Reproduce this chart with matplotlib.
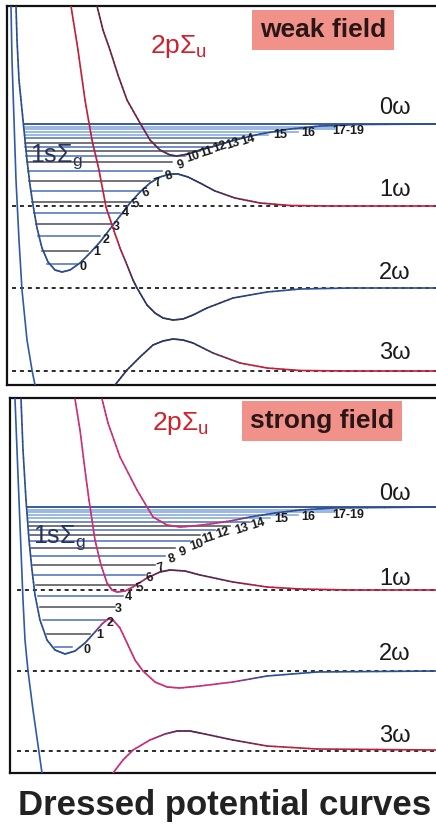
import numpy as np
import matplotlib
matplotlib.use('Agg')
import matplotlib.pyplot as plt
from matplotlib.collections import LineCollection
from matplotlib.colors import to_rgb

plt.rcParams['font.family'] = ['Liberation Sans', 'DejaVu Sans']
plt.rcParams['mathtext.fontset'] = 'custom'
plt.rcParams['mathtext.rm'] = 'Liberation Sans'
plt.rcParams['mathtext.it'] = 'Liberation Sans'

# horizontal: internuclear distance R (arb. units), vertical: energy (arb. units),
# 0 = dissociation limit of the 0-photon channel, one photon = 82 units

# ---- weak field panel ----
wk_well_x = [16, 17, 19, 21, 24, 27, 30, 33, 37, 42, 48, 55, 62, 70, 80, 90, 100, 110, 120, 130,
             140, 150, 160, 170, 178, 188, 200, 215, 235, 260, 290, 330, 436]
wk_well_e = [118, 84, 44, 24, -6, -36, -61, -81, -104, -124, -138, -146, -148, -146, -139, -129, -118, -105, -92, -79,
             -68, -59, -53, -50, -50, -53, -59, -67, -74, -79, -81.5, -82, -82]
wk_up_x = [97, 103, 110, 118, 127, 140, 150, 160, 170, 177, 188, 200, 215, 235, 260, 290, 320, 360, 436]
wk_up_e = [118, 94, 74, 49, 24, 1, -16, -26, -31, -32, -30, -26, -22, -16, -10, -5, -2, -0.5, 0]
wk_mid_x = [71, 78, 85, 92, 99, 106, 113, 120, 127, 133, 137, 147, 155, 163, 173, 183, 193, 207, 233, 267, 300, 350, 436]
wk_mid_e = [118, 74, 24, -16, -46, -83, -104, -124, -141, -156, -164, -181, -189, -194, -196, -195, -191, -184, -174, -168, -165, -164, -164]
wk_low_x = [115, 127, 140, 153, 163, 173, 183, 193, 213, 240, 267, 300, 350, 436]
wk_low_e = [-261, -246, -233, -221, -217, -215, -216, -219, -229, -239, -244, -246.5, -247, -247]
wk_wall_x = [11, 12, 14, 16, 19, 22, 27, 32, 35]
wk_wall_e = [118, 64, 4, -56, -116, -166, -216, -246, -261]
wk_dash_e = [-82, -164, -247]
wk_lv_e = [-140, -127, -112, -100, -89, -78, -67, -57, -47, -38, -32, -27, -23, -19, -14, -11, -8, -5, -3, 0]
wk_lv_x0 = [47, 42, 38, 36, 34, 32, 31, 29, 28, 27, 26, 26, 25, 25, 25, 25, 25, 25, 25, 24]
wk_lv_x1 = [77, 88, 100, 112, 120, 130, 140, 150, 162, 172, 185, 200, 212, 225, 240, 268, 298, 335, 335, 436]
wk_lab_x = [83, 97, 106, 116, 125, 136, 146, 158, 169, 181, 193, 207, 220, 233, 248, 280, 308, 348]
wk_lab_e = [-143, -128, -116, -103, -89, -80, -69, -59, -52, -41, -33, -28, -23, -20, -16, -11, -9, -7]

# ---- strong field panel ----
st_well_x = [21, 23, 26, 29, 32, 35, 40, 47, 55, 65, 75, 85, 95, 102, 108, 113, 120, 128, 135, 143,
             155, 167, 180, 200, 233, 267, 317, 436]
st_well_e = [108, 57, 7, -33, -63, -88, -113, -133, -143, -147, -144, -136, -125, -117, -112, -113, -121, -138, -153, -164,
             -175, -180, -181, -179, -175, -169, -165, -164]
st_up_x = [102, 108, 120, 137, 153, 167, 180, 193, 210, 230, 250, 275, 300, 333, 436]
st_up_e = [108, 84, 50, 17, -10, -18, -20, -19, -17, -14, -10, -6, -3, -1, 0]
st_mid_x = [75, 80, 85, 89, 95, 101, 107, 112, 117, 125, 133, 147, 160, 170, 185, 200, 233, 267, 300, 350, 436]
st_mid_e = [108, 77, 37, 7, -33, -58, -76, -83, -85, -84, -80, -71, -65, -63, -64, -68, -75, -80, -82, -83, -83]
st_low_x = [113, 123, 133, 150, 165, 177, 190, 200, 233, 267, 317, 436]
st_low_e = [-266, -253, -243, -233, -227, -224, -224, -226, -233, -239, -242, -243]
st_wall_x = [15, 17, 19, 21, 23, 25, 28, 33, 38, 42]
st_wall_e = [108, 57, 7, -43, -93, -133, -164, -203, -238, -266]
st_dash_e = [-83, -164, -244]
st_lv_e = [-140, -127, -113, -100, -89, -78, -68, -58, -49, -41, -34, -28, -23, -19, -15, -11, -8, -5, -3, 0]
st_lv_x0 = [55, 47, 43, 40, 38, 36, 34, 33, 32, 31, 30, 30, 29, 29, 29, 28, 28, 28, 28, 27]
st_lv_x1 = [72, 90, 107, 115, 123, 135, 145, 155, 165, 175, 190, 200, 215, 230, 250, 270, 298, 335, 335, 436]
st_lab_x = [87, 100, 110, 118, 128, 140, 150, 161, 172, 183, 197, 209, 223, 242, 258, 281, 308, 348]
st_lab_e = [-143, -128, -116, -102, -90, -81, -71, -61, -52, -45, -38, -31, -26, -22, -17, -12, -10, -8]

lab_txt = [str(i) for i in range(17)] + ['17-19']
photon_txt = ['0\u03c9', '1\u03c9', '2\u03c9', '3\u03c9']

BLUE = '#2c4f93'
NAVY = '#2a3560'
RED = '#c0203c'
DRED = '#6e2445'
MAG = '#c8307a'
DPUR = '#5a2550'


def grad_line(ax, x, e, stops, lw=1.2):
    """polyline whose colour is blended along x between (x, colour) stops"""
    x = np.asarray(x, float)
    e = np.asarray(e, float)
    sx = np.array([s[0] for s in stops], float)
    sc = np.array([to_rgb(s[1]) for s in stops])
    segs, cols = [], []
    t = np.linspace(0, 1, 7)
    for i in range(len(x) - 1):
        xs = x[i] + (x[i + 1] - x[i]) * t
        es = e[i] + (e[i + 1] - e[i]) * t
        for j in range(len(t) - 1):
            segs.append([(xs[j], es[j]), (xs[j + 1], es[j + 1])])
            xm = 0.5 * (xs[j] + xs[j + 1])
            cols.append([np.interp(xm, sx, sc[:, k]) for k in range(3)])
    ax.add_collection(LineCollection(segs, colors=cols, linewidths=lw, zorder=4, capstyle='round'))


def panel(ax, d, title, strong):
    ax.set_xlim(d['xlim'])
    ax.set_ylim(d['ylim'])
    ax.set_xticks([])
    ax.set_yticks([])
    for s in ['left', 'top', 'bottom']:
        ax.spines[s].set_linewidth(1.6)
        ax.spines[s].set_color('#111111')
    ax.spines['right'].set_visible(False)

    # n-photon dissociation limits
    for e in d['dash']:
        ax.plot([d['dash_x0'], d['xlim'][1]], [e, e], ls=(0, (2.2, 2.2)), color='#1a1a1a', lw=1.3, zorder=2)

    # vibrational levels
    for i, (e, x0, x1) in enumerate(zip(d['lv_e'], d['lv_x0'], d['lv_x1'])):
        if i >= 15:
            c = '#7ea4dc'
        else:
            c = '#4a6fb8' if i % 2 == 0 else '#4d4d55'
        if i == len(d['lv_e']) - 1:
            c, lw = BLUE, 1.3
        else:
            lw = 1.1
        ax.plot([x0, x1], [e, e], color=c, lw=lw, zorder=3)

    ax.plot(d['wall'][0], d['wall'][1], color='#2f5aa5', lw=1.2, zorder=4)
    if strong:
        grad_line(ax, *d['well'], [(0, BLUE), (92, BLUE), (106, MAG), (230, MAG), (265, BLUE)])
        grad_line(ax, *d['up'], [(0, MAG), (220, MAG), (260, BLUE)])
        grad_line(ax, *d['mid'], [(0, MAG), (130, MAG), (165, DPUR), (220, DPUR), (270, RED)])
        grad_line(ax, *d['low'], [(0, MAG), (150, MAG), (180, DPUR), (230, DPUR), (280, RED)])
    else:
        grad_line(ax, *d['well'], [(0, BLUE), (150, BLUE), (200, NAVY), (240, DRED), (290, RED)])
        grad_line(ax, *d['up'], [(0, DRED), (150, DRED), (200, NAVY), (260, BLUE)])
        grad_line(ax, *d['mid'], [(0, RED), (118, RED), (135, NAVY), (220, NAVY), (270, BLUE)])
        grad_line(ax, *d['low'], [(0, NAVY), (200, NAVY), (250, RED)])

    for i, (x, e, s) in enumerate(zip(d['lab_x'], d['lab_e'], lab_txt)):
        rot = 18 if 5 <= i <= 14 else 0
        ax.text(x, e, s, fontsize=9, fontweight='bold', color='#1a1a1a', ha='center', va='center',
                rotation=rot, zorder=6)

    for e, s in zip(d['ph_e'], photon_txt):
        ax.text(395, e, s, fontsize=17, color='#1a1a1a', ha='center', va='center', zorder=6)

    ax.text(d['g_pos'][0], d['g_pos'][1], r'1s$\mathregular{\Sigma_g}$', fontsize=18, color='#26325c',
            ha='left', va='baseline', zorder=6)
    ax.text(d['u_pos'][0], d['u_pos'][1], r'2p$\mathregular{\Sigma_u}$', fontsize=19, color='#d21f2a',
            ha='left', va='baseline', zorder=6)
    ax.text(d['box_pos'][0], d['box_pos'][1], title, fontsize=19, fontweight='bold', color='#2a1616',
            ha='center', va='center', zorder=6,
            bbox=dict(boxstyle='square,pad=0.3', facecolor='#f0928a', edgecolor='none'))


weak = dict(xlim=(7, 436), ylim=(-261, 118), dash=wk_dash_e, dash_x0=12,
            lv_e=wk_lv_e, lv_x0=wk_lv_x0, lv_x1=wk_lv_x1,
            wall=(wk_wall_x, wk_wall_e), well=(wk_well_x, wk_well_e), up=(wk_up_x, wk_up_e),
            mid=(wk_mid_x, wk_mid_e), low=(wk_low_x, wk_low_e),
            lab_x=wk_lab_x, lab_e=wk_lab_e, ph_e=[16, -66, -149, -229],
            g_pos=(30, -38), u_pos=(150, 71), box_pos=(323, 94))
strong = dict(xlim=(10, 436), ylim=(-266, 109), dash=st_dash_e, dash_x0=17,
              lv_e=st_lv_e, lv_x0=st_lv_x0, lv_x1=st_lv_x1,
              wall=(st_wall_x, st_wall_e), well=(st_well_x, st_well_e), up=(st_up_x, st_up_e),
              mid=(st_mid_x, st_mid_e), low=(st_low_x, st_low_e),
              lab_x=st_lab_x, lab_e=st_lab_e, ph_e=[13, -72, -147, -229],
              g_pos=(33, -36), u_pos=(152, 77), box_pos=(322, 86))

W, H = 436, 832
fig = plt.figure(figsize=(W / 100, H / 100), dpi=100)
ax1 = fig.add_axes([7 / W, 1 - 385 / H, 1 - 7 / W, 379 / H])
ax2 = fig.add_axes([10 / W, 1 - 773 / H, 1 - 10 / W, 375 / H])
panel(ax1, weak, 'weak field', False)
panel(ax2, strong, 'strong field', True)

fig.text(225 / W, 1 - 806 / H, 'Dressed potential curves', fontsize=25, fontweight='bold',
         color='#222222', ha='center', va='center')

fig.savefig('out.png', dpi=100)
